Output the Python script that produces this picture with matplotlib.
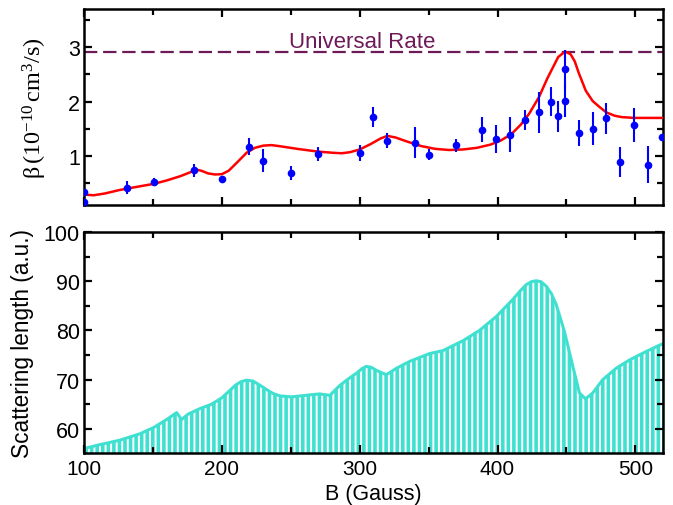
import numpy as np
import matplotlib
matplotlib.use("Agg")
import matplotlib.pyplot as plt
from matplotlib.ticker import MultipleLocator

plt.rcParams['font.family'] = ['Liberation Sans', 'DejaVu Sans']
plt.rcParams['mathtext.fontset'] = 'custom'
plt.rcParams['mathtext.rm'] = 'Liberation Serif'
plt.rcParams['mathtext.it'] = 'Liberation Serif:italic'
plt.rcParams['hatch.linewidth'] = 2.6

# ---- data: measured loss rate (top panel) ----
B_meas = [100, 100, 131, 151, 180, 200, 220, 230, 250, 270, 300, 310, 320,
          340, 350, 370, 389, 399, 409, 420, 430, 439, 444, 449, 449, 459,
          469, 479, 489, 499, 509, 519]
beta_meas = [0.33, 0.155, 0.42, 0.52, 0.74, 0.57, 1.17, 0.915, 0.68, 1.03,
             1.055, 1.72, 1.28, 1.245, 1.02, 1.20, 1.485, 1.31, 1.39, 1.66,
             1.80, 2.00, 1.73, 2.02, 2.59, 1.43, 1.50, 1.69, 0.89, 1.565,
             0.835, 1.35]
beta_err = [0.05, 0.05, 0.12, 0.08, 0.12, 0.07, 0.16, 0.21, 0.13, 0.13,
            0.14, 0.18, 0.14, 0.28, 0.10, 0.12, 0.23, 0.26, 0.32, 0.18,
            0.38, 0.26, 0.28, 0.30, 0.35, 0.24, 0.30, 0.29, 0.28, 0.31,
            0.34, 0.05]

# ---- theory curve (top panel) ----
B_fit = [100, 103, 107, 115, 125, 131, 140, 151, 160, 170, 177, 181, 185,
         190, 195, 200, 205, 211, 218, 224, 230, 236, 242, 255, 270, 280,
         287, 293, 300, 308, 315, 320, 326, 335, 345, 355, 365, 375, 385,
         395, 402, 410, 417, 423, 430, 436, 440, 444, 449, 453, 456, 459,
         464, 469, 474, 479, 485, 490, 499, 510, 520]
beta_fit = [0.30, 0.285, 0.278, 0.31, 0.37, 0.40, 0.44, 0.49, 0.55, 0.63,
            0.70, 0.75, 0.73, 0.68, 0.66, 0.665, 0.73, 0.88, 1.06, 1.15,
            1.19, 1.20, 1.18, 1.13, 1.08, 1.06, 1.05, 1.07, 1.12, 1.22,
            1.32, 1.37, 1.34, 1.26, 1.18, 1.13, 1.11, 1.12, 1.15, 1.21,
            1.28, 1.40, 1.58, 1.78, 2.08, 2.42, 2.62, 2.82, 2.92, 2.87,
            2.74, 2.52, 2.20, 2.01, 1.90, 1.80, 1.74, 1.715, 1.70, 1.70,
            1.70]
universal_rate = 2.91

# ---- scattering length (bottom panel) ----
B_sl = [100, 111.6, 126, 140.6, 150.7, 160, 167.2, 170.8, 175.6, 184,
        192.5, 200, 205, 210, 214, 218, 222.7, 228, 232.4, 237, 242, 250.5,
        263.8, 271, 278.3, 285.5, 291, 297.6, 301.5, 304.8, 308.5, 312,
        319.3, 326.6, 336.2, 350.7, 360.4, 374.9, 386.9, 399, 411.1, 416,
        420.8, 424.5, 428, 431.5, 435.3, 439, 442.5, 448.6, 454.6, 459.4,
        463.8, 469.1, 476.3, 486, 495.7, 507.7, 517.4, 520]
a_sl = [56.0, 56.8, 57.7, 59.0, 60.3, 61.9, 63.3, 61.9, 63.0, 64.1,
        65.0, 66.3, 67.6, 68.9, 69.6, 69.9, 69.7, 68.8, 68.0, 67.2, 66.7,
        66.5, 66.9, 67.1, 66.8, 68.8, 70.0, 71.3, 72.2, 72.7, 72.5, 71.9,
        71.0, 72.3, 73.7, 75.3, 75.9, 77.9, 80.0, 82.8, 86.3, 87.9,
        89.3, 89.9, 90.1, 89.9, 89.0, 87.5, 85.3, 79.7, 72.7, 67.3,
        66.1, 67.3, 70.0, 72.3, 74.0, 75.7, 77.0, 77.3]

turq = '#40E0D0'
purple = '#6e1a58'

fig = plt.figure(figsize=(6.73, 5.06), dpi=100)
ax1 = fig.add_axes([0.1248, 0.593, 0.8603, 0.387])
ax2 = fig.add_axes([0.1248, 0.1028, 0.8603, 0.4367])

for ax in (ax1, ax2):
    for s in ax.spines.values():
        s.set_linewidth(1.8)
    ax.tick_params(which='both', direction='in', top=True, right=True,
                   width=1.6, labelsize=15.5)
    ax.tick_params(which='major', length=6)
    ax.tick_params(which='minor', length=4)
    ax.tick_params(axis='y', pad=3)
    ax.tick_params(axis='x', pad=4, labelsize=15)
    ax.set_xlim(100, 520)
    ax.xaxis.set_major_locator(MultipleLocator(100))
    ax.xaxis.set_minor_locator(MultipleLocator(50))

# top panel
ax1.axhline(universal_rate, color=purple, lw=1.6, ls=(0, (6, 2.6)))
ax1.text(248.6, 3.0, 'Universal Rate', color=purple, fontsize=16,
         ha='left', va='baseline')
ax1.plot(B_fit, beta_fit, color='#ff0000', lw=1.8, zorder=3)
ax1.errorbar(B_meas, beta_meas, yerr=beta_err, fmt='o', color='#0000ff',
             ms=4.5, elinewidth=1.5, capsize=0, zorder=4)
ax1.set_ylim(0.1, 3.7)
ax1.yaxis.set_major_locator(MultipleLocator(1))
ax1.yaxis.set_minor_locator(MultipleLocator(0.5))
ax1.tick_params(axis='x', labelbottom=False)
ax1.set_ylabel(r'$\mathrm{\beta\,(10^{-10}\,cm^{3}/s)}$', fontsize=17.5)
ax1.yaxis.set_label_coords(-0.060, 0.5)

# bottom panel
ax2.fill_between(B_sl, a_sl, 50, facecolor='white', edgecolor=turq,
                 hatch='|||', linewidth=0)
ax2.plot(B_sl, a_sl, color=turq, lw=2.2)
ax2.set_ylim(55.1, 100)
ax2.yaxis.set_major_locator(MultipleLocator(10))
ax2.yaxis.set_minor_locator(MultipleLocator(5))
ax2.set_ylabel('Scattering length (a.u.)', fontsize=16.3)
ax2.yaxis.set_label_coords(-0.086, 0.5)
ax2.set_xlabel('B (Gauss)', fontsize=15.5)
ax2.xaxis.set_label_coords(0.5, -0.134)

fig.savefig('out.png', dpi=100)
